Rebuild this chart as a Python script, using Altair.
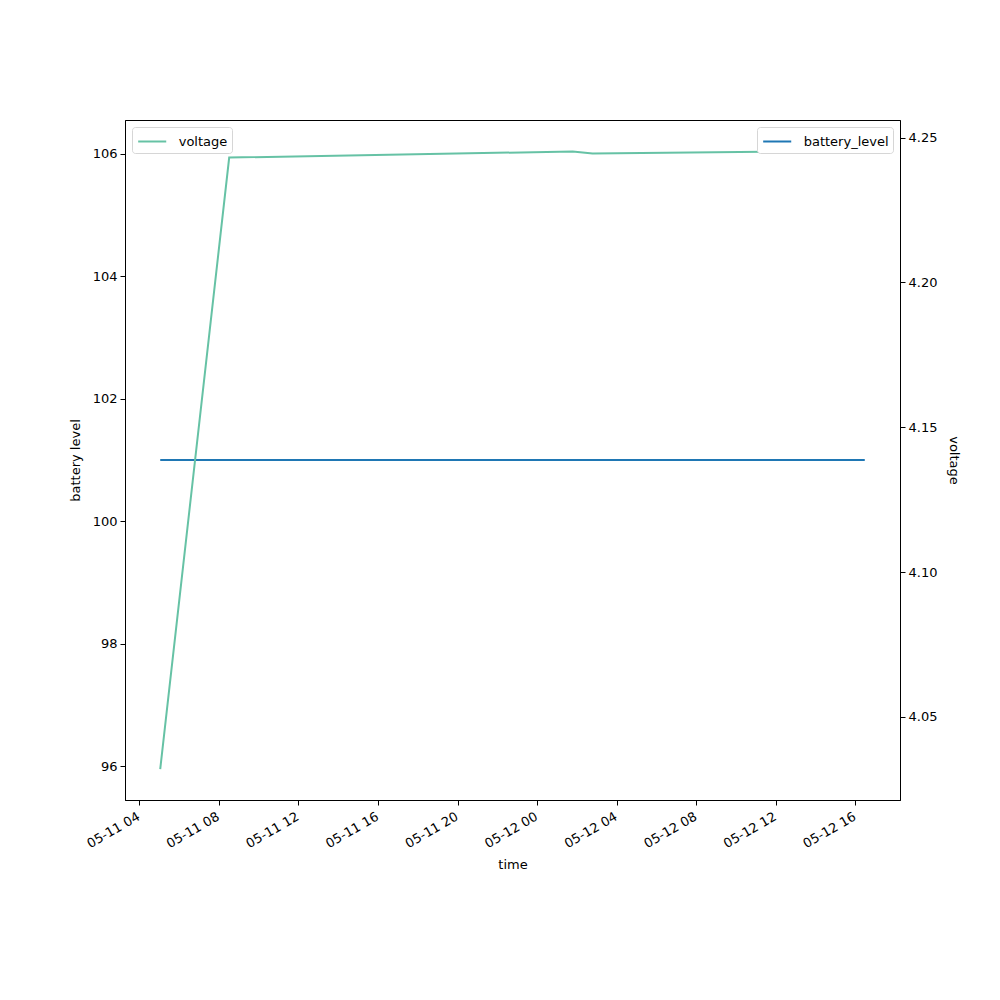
import altair as alt
import pandas as pd

# ---- data ----
times = [
    "2023-05-11T05:03:00",
    "2023-05-11T08:31:00",
    "2023-05-12T01:47:00",
    "2023-05-12T02:47:00",
    "2023-05-12T16:28:00",
]
voltage = [4.032, 4.2431, 4.2452, 4.2445, 4.2454]
battery_level = [101, 101, 101, 101, 101]

x_ticks = [
    "2023-05-11T04:00:00", "2023-05-11T08:00:00", "2023-05-11T12:00:00",
    "2023-05-11T16:00:00", "2023-05-11T20:00:00", "2023-05-12T00:00:00",
    "2023-05-12T04:00:00", "2023-05-12T08:00:00", "2023-05-12T12:00:00",
    "2023-05-12T16:00:00",
]
left_ticks = [96, 98, 100, 102, 104, 106]
right_ticks = [4.05, 4.10, 4.15, 4.20, 4.25]

# ---- derived (matplotlib-style autoscale with 5% margins) ----
def ms(s):
    return int(pd.Timestamp(s, tz="UTC").value // 10**6)

t_ms = [ms(t) for t in times]
t0, t1 = min(t_ms), max(t_ms)
m = (t1 - t0) * 0.05
x_domain = [t0 - m, t1 + m]
x_tick_ms = [ms(t) for t in x_ticks]

v0, v1 = min(voltage), max(voltage)
vm = (v1 - v0) * 0.05
v_domain = [v0 - vm, v1 + vm]

b = battery_level[0]
bl0, bl1 = b - 0.05 * abs(b), b + 0.05 * abs(b)
bm = (bl1 - bl0) * 0.05
b_domain = [bl0 - bm, bl1 + bm]

df = pd.DataFrame({
    "time": t_ms,
    "voltage": voltage,
    "battery_level": battery_level,
    "s_v": ["voltage"] * len(times),
    "s_b": ["battery_level"] * len(times),
})

FONT = "DejaVu Sans"
FS = 13

legend_common = dict(
    title=None,
    symbolType="M-1.5,0H1.5",
    symbolSize=350,
    symbolStrokeWidth=2,
    symbolOffset=5.7,
    labelOffset=16,
    labelFont=FONT,
    labelFontSize=FS,
    labelColor="black",
    strokeColor="#d6d6d6",
    fillColor="white",
    cornerRadius=3,
    padding=4,
    offset=7,
)

x_enc = alt.X(
    "time:Q",
    scale=alt.Scale(domain=x_domain, nice=False, zero=False),
    axis=alt.Axis(
        title="time",
        values=x_tick_ms,
        labelExpr="utcFormat(datum.value, '%m-%d %H')",
        labelAngle=-30,
        labelAlign="right",
        labelBaseline="top",
        labelOffset=-4,
        grid=False,
        tickSize=5,
        labelPadding=5,
        titlePadding=8,
    ),
)

battery = alt.Chart(df).mark_line(strokeWidth=2).encode(
    x=x_enc,
    y=alt.Y(
        "battery_level:Q",
        scale=alt.Scale(domain=b_domain, nice=False, zero=False),
        axis=alt.Axis(title="battery level", values=left_ticks, grid=False,
                      tickSize=5, labelPadding=3, titlePadding=10, orient="left"),
    ),
    color=alt.Color(
        "s_b:N",
        scale=alt.Scale(domain=["battery_level"], range=["#1f77b4"]),
        legend=alt.Legend(orient="top-right", **legend_common),
    ),
)

volt = alt.Chart(df).mark_line(strokeWidth=2).encode(
    x=x_enc,
    y=alt.Y(
        "voltage:Q",
        scale=alt.Scale(domain=v_domain, nice=False, zero=False),
        axis=alt.Axis(title="voltage", values=right_ticks, format=".2f", grid=False,
                      tickSize=5, labelPadding=3, titlePadding=10, orient="right"),
    ),
    color=alt.Color(
        "s_v:N",
        scale=alt.Scale(domain=["voltage"], range=["#66c2a5"]),
        legend=alt.Legend(orient="top-left", **legend_common),
    ),
)

chart = (
    alt.layer(battery, volt)
    .resolve_scale(y="independent", color="independent")
    .resolve_legend(color="independent")
    .properties(
        width=775,
        height=680,
        padding={"left": 117, "top": 112, "right": 80, "bottom": 80},
        autosize=alt.AutoSizeParams(type="none"),
        background="white",
    )
    .configure_view(stroke="black", strokeWidth=1)
    .configure_axis(
        labelFont=FONT,
        labelFontSize=FS,
        labelColor="black",
        titleFont=FONT,
        titleFontSize=FS,
        titleFontWeight="normal",
        titleColor="black",
        domainColor="black",
        tickColor="black",
        domainWidth=1,
        tickWidth=1,
    )
)

chart.save("out.html", embed_options={"renderer": "svg", "actions": False})
